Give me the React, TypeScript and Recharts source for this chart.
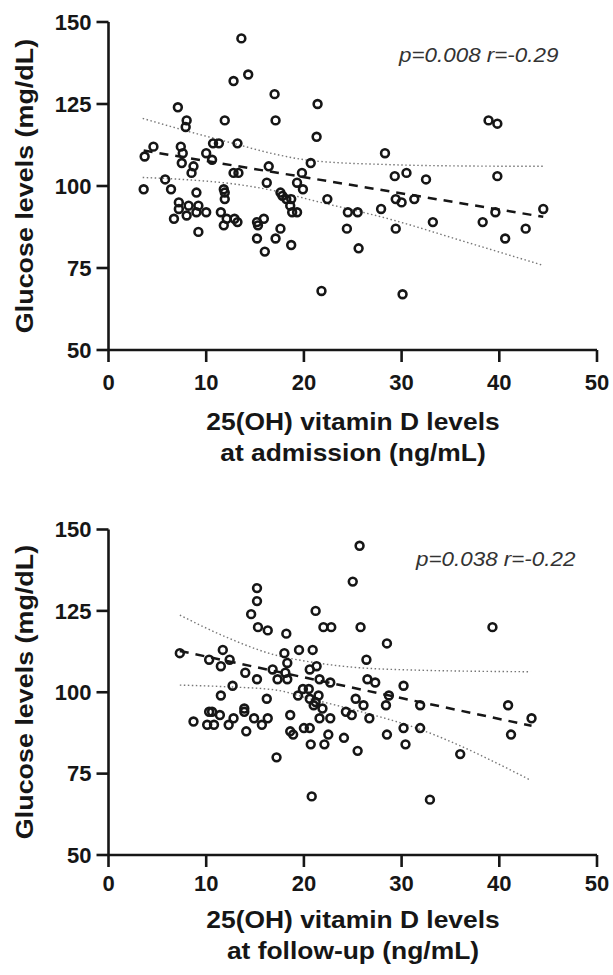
import { Scatter, ScatterChart, XAxis, YAxis } from 'recharts';

// 25(OH) vitamin D (ng/mL) vs glucose (mg/dL), at admission
const admissionVitD = [
  3.6, 3.7, 4.6, 5.8, 6.4, 6.7, 7.1, 7.2, 7.2, 7.4, 7.5, 7.6, 8.0, 7.9, 8.0, 8.2, 8.5, 8.7, 9.0, 9.0,
  9.2, 9.2, 10.0, 10.0, 10.6, 10.7, 11.3, 11.5, 11.8, 11.9, 11.9, 11.9, 11.8, 12.1, 12.8, 12.8, 13.3,
  13.2, 12.9, 13.2, 13.6, 14.3, 15.2, 15.2, 15.3, 15.9, 16.0, 16.2, 16.4, 17.0, 17.1, 17.1, 17.6, 17.6,
  17.8, 18.2, 18.6, 18.7, 18.7, 18.8, 19.3, 19.3, 19.8, 19.9, 20.7, 21.3, 21.4, 21.8, 22.4, 24.4, 24.5,
  25.5, 25.6, 27.9, 28.3, 29.3, 29.4, 29.4, 30.0, 30.1, 30.5, 31.3, 32.5, 33.2, 38.3, 38.9, 39.8, 39.6,
  39.8, 40.6, 42.7, 44.5,
];
const admissionGlucose = [
  99, 109, 112, 102, 99, 90, 124, 95, 93, 112, 107, 110, 120, 118, 91, 94, 104, 106, 98, 92,
  94, 86, 92, 110, 108, 113, 113, 92, 99, 120, 98, 96, 88, 90, 132, 104, 104,
  113, 90, 89, 145, 134, 89, 84, 88, 90, 80, 101, 106, 128, 120, 84, 87, 98,
  97, 96, 94, 82, 96, 92, 92, 101, 104, 99, 107, 115, 125, 68, 96, 87, 92,
  92, 81, 93, 110, 103, 96, 87, 95, 67, 104, 96, 102, 89, 89, 120, 119, 92,
  103, 84, 87, 93,
];

// at follow-up
const followUpVitD = [
  7.3, 8.7, 10.3, 10.3, 10.1, 10.6, 10.8, 11.4, 11.7, 11.5, 12.4, 11.5, 12.7, 12.3, 12.8, 13.9, 14.0,
  13.9, 14.1, 14.6, 15.2, 15.2, 15.3, 15.2, 14.9, 15.7, 16.3, 16.2, 16.3, 16.8, 17.3, 17.2, 18.2, 18.0,
  18.3, 18.1, 18.3, 18.6, 18.6, 18.9, 19.5, 19.4, 19.9, 20.0, 20.6, 20.5, 20.7, 20.8, 20.9, 20.6, 21.0,
  20.6, 21.2, 21.3, 21.5, 21.6, 21.2, 21.9, 21.6, 22.0, 22.8, 22.1, 22.5, 22.7, 22.7, 24.1, 24.3, 25.0,
  24.9, 25.3, 25.5, 25.7, 25.8, 26.1, 26.4, 26.5, 26.7, 27.3, 28.5, 28.7, 28.4, 28.5, 30.2, 30.2, 30.4,
  31.9, 31.9, 32.9, 36.0, 39.3, 40.9, 41.2, 43.3,
];
const followUpGlucose = [
  112, 91, 110, 94, 90, 94, 90, 93, 113, 108, 110, 99, 102, 90, 92, 95, 106,
  94, 88, 124, 132, 128, 120, 104, 92, 90, 119, 98, 92, 107, 104, 80, 118, 112,
  109, 106, 104, 93, 88, 87, 113, 99, 101, 89, 89, 101, 84, 68, 113, 107, 96,
  98, 125, 108, 99, 104, 97, 95, 92, 120, 120, 84, 87, 103, 92, 86, 94, 134,
  93, 98, 82, 145, 120, 96, 110, 104, 92, 103, 115, 99, 96, 87, 102, 89, 84,
  96, 89, 67, 81, 120, 96, 87, 92,
];

// fitted line and 95% band
const admissionFitX = [3.6, 44.5];
const admissionFitY = [110.8, 90.6];
const admissionBandX = [3.5, 8.1, 12.9, 16.9, 20.9, 28.9, 36.5, 44.5];
const admissionUpper = [120.6, 116.7, 112.9, 109.8, 107.7, 106.5, 106.1, 106.0];
const admissionLower = [102.6, 101.9, 100.6, 98.6, 95.6, 89.8, 83.0, 75.8];

const followUpFitX = [7.3, 43.3];
const followUpFitY = [112.7, 89.7];
const followUpBandX = [7.3, 12.0, 17.1, 20.5, 24.6, 31.5, 43.2];
const followUpUpper = [123.7, 117.0, 111.4, 109.4, 107.8, 106.8, 106.3];
const followUpLower = [102.2, 101.7, 100.7, 98.1, 95.0, 89.0, 73.0];

const xTicks = [0, 10, 20, 30, 40, 50];
const yTicks = [50, 75, 100, 125, 150];

const FONT = '"Liberation Sans", Arial, sans-serif';
const INK = '#161616';

const zip = (xs: number[], ys: number[]) => xs.map((x, i) => ({ x, y: ys[i] }));

const Ring = (props: any) => (
  <circle cx={props.cx} cy={props.cy} r={3.9} fill="none" stroke={INK} strokeWidth={2.6} />
);
const NoDot = () => <g />;

interface PanelProps {
  vitD: number[];
  glucose: number[];
  fitX: number[];
  fitY: number[];
  bandX: number[];
  upper: number[];
  lower: number[];
  top: number;
  height: number;
  marginTop: number;
  axisHeight: number;
  xTickMargin: number;
  stats: string;
  statsX: number;
  statsY: number;
  title: string[];
  titleY: number;
}

function Panel(p: PanelProps) {
  const tick = { fill: INK, fontSize: 22, fontWeight: 700, fontFamily: FONT };
  const axisLine = { stroke: INK, strokeWidth: 2.6 };
  const plotTop = p.marginTop;
  const plotBottom = p.height - p.axisHeight;
  return (
    <div style={{ position: 'absolute', left: 0, top: p.top, width: 613, height: p.height }}>
      <ScatterChart width={613} height={p.height} margin={{ top: p.marginTop, right: 16, bottom: 0, left: 0 }}>
        <XAxis
          type="number"
          dataKey="x"
          domain={[0, 50]}
          ticks={xTicks}
          interval={0}
          height={p.axisHeight}
          tick={tick}
          tickSize={12}
          tickMargin={p.xTickMargin}
          axisLine={axisLine}
          tickLine={axisLine}
        />
        <YAxis
          type="number"
          dataKey="y"
          domain={[50, 150]}
          ticks={yTicks}
          interval={0}
          width={108.5}
          tick={tick}
          tickSize={12}
          tickMargin={5}
          axisLine={axisLine}
          tickLine={axisLine}
        />
        <Scatter
          data={zip(p.bandX, p.upper)}
          line={{ stroke: '#777', strokeWidth: 1.4, strokeDasharray: '1.5 2.5' }}
          lineJointType="monotoneX"
          shape={NoDot}
          isAnimationActive={false}
        />
        <Scatter
          data={zip(p.bandX, p.lower)}
          line={{ stroke: '#777', strokeWidth: 1.4, strokeDasharray: '1.5 2.5' }}
          lineJointType="monotoneX"
          shape={NoDot}
          isAnimationActive={false}
        />
        <Scatter
          data={zip(p.fitX, p.fitY)}
          line={{ stroke: INK, strokeWidth: 2.5, strokeDasharray: '9 7' }}
          shape={NoDot}
          isAnimationActive={false}
        />
        <Scatter data={zip(p.vitD, p.glucose)} shape={Ring} isAnimationActive={false} />
      </ScatterChart>

      <div
        style={{
          position: 'absolute',
          left: 25,
          top: (plotTop + plotBottom) / 2,
          transform: 'translate(-50%, -50%) rotate(-90deg) scaleX(1.12)',
          whiteSpace: 'nowrap',
          font: `700 24px ${FONT}`,
          lineHeight: '28px',
          color: INK,
        }}
      >
        Glucose levels (mg/dL)
      </div>
      <div
        style={{
          position: 'absolute',
          left: p.statsX,
          top: p.statsY,
          transform: 'translateY(-50%) scaleX(1.12)',
          transformOrigin: 'left center',
          whiteSpace: 'nowrap',
          font: `italic 400 20px ${FONT}`,
          lineHeight: '24px',
          color: '#333',
        }}
      >
        {p.stats}
      </div>
      <div
        style={{
          position: 'absolute',
          left: 353,
          top: p.titleY,
          transform: 'translateX(-50%) scaleX(1.1)',
          whiteSpace: 'nowrap',
          textAlign: 'center',
          font: `700 24px ${FONT}`,
          lineHeight: '31px',
          color: INK,
        }}
      >
        {p.title.map((line) => (
          <div key={line}>{line}</div>
        ))}
      </div>
    </div>
  );
}

export default function App() {
  return (
    <div style={{ position: 'absolute', left: 0, top: 0, width: 613, height: 975, background: '#fff', overflow: 'hidden' }}>
      <Panel
        vitD={admissionVitD}
        glucose={admissionGlucose}
        fitX={admissionFitX}
        fitY={admissionFitY}
        bandX={admissionBandX}
        upper={admissionUpper}
        lower={admissionLower}
        top={0}
        height={500}
        marginTop={22}
        axisHeight={150}
        xTickMargin={12}
        stats="p=0.008 r=-0.29"
        statsX={399}
        statsY={55}
        title={['25(OH) vitamin D levels', 'at admission (ng/mL)']}
        titleY={406}
      />
      <Panel
        vitD={followUpVitD}
        glucose={followUpGlucose}
        fitX={followUpFitX}
        fitY={followUpFitY}
        bandX={followUpBandX}
        upper={followUpUpper}
        lower={followUpLower}
        top={500}
        height={475}
        marginTop={29.5}
        axisHeight={120}
        xTickMargin={8}
        stats="p=0.038 r=-0.22"
        statsX={416}
        statsY={59}
        title={['25(OH) vitamin D levels', 'at follow-up (ng/mL)']}
        titleY={404}
      />
    </div>
  );
}
